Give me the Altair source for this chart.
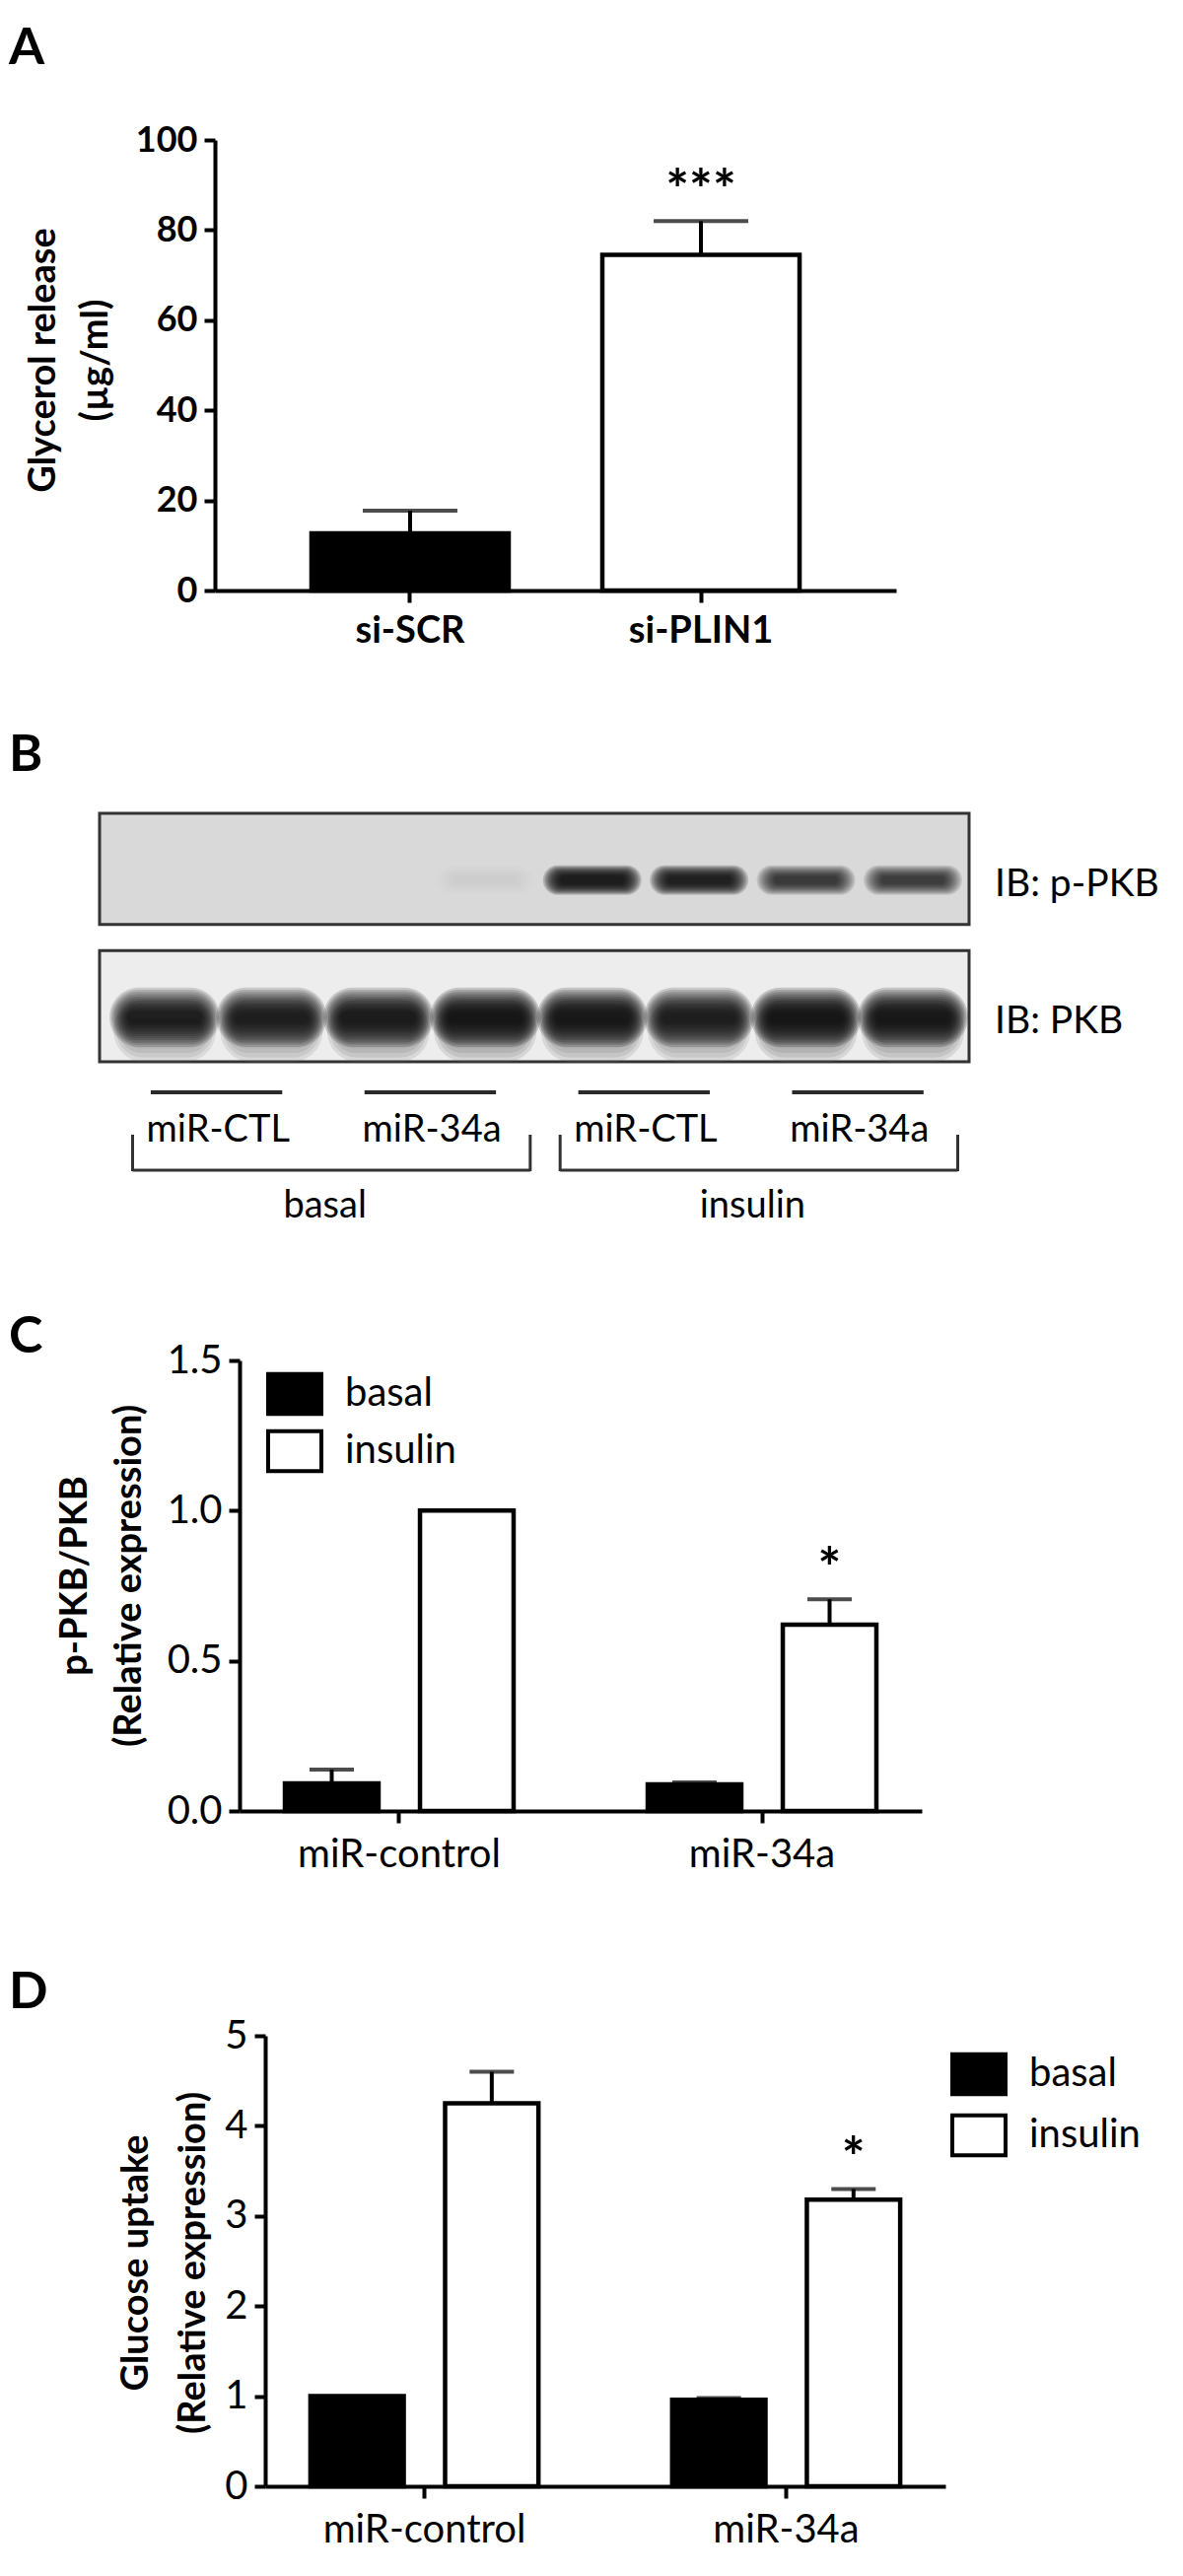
import altair as alt
import pandas as pd

FONT = "Lato"
BLACK = "black"

# ---------------- data ----------------
# Panel A
a_samples = ["si-SCR", "si-PLIN1"]
a_mean = [12.7, 74.5]
a_upper = [17.7, 82.0]
a_sig = ["", "***"]

# Panel B (western blot)
lanes = [1, 2, 3, 4, 5, 6, 7, 8]
strips = ["IB: p-PKB", "IB: PKB"]
ppkb_intensity = [0.0, 0.0, 0.0, 0.02, 1.0, 0.92, 0.6, 0.58]
pkb_intensity = [0.8, 0.88, 0.92, 1.0, 0.97, 0.88, 1.0, 0.97]
pair_first = [1, 3, 5, 7]
pair_last = [2, 4, 6, 8]
pair_labels = ["miR-CTL", "miR-34a", "miR-CTL", "miR-34a"]
group_first = [1, 5]
group_last = [4, 8]
group_labels = ["basal", "insulin"]

# Panels C and D
groups = ["miR-control", "miR-34a"]
conds = ["basal", "insulin"]
c_mean = [0.092, 1.0, 0.089, 0.62]
c_upper = [0.138, 1.0, 0.095, 0.705]
c_sig = ["", "", "", "*"]
d_mean = [1.0, 4.25, 0.96, 3.18]
d_upper = [1.0, 4.6, 0.98, 3.30]
d_sig = ["", "", "", "*"]

# ---------------- layout / style ----------------
W = 882
H = 457
HB = 325
RECT_SYMBOL = "M-1,-0.75H1V0.75H-1Z"


def axis_style(**kw):
    base = dict(domainColor=BLACK, domainWidth=4, tickColor=BLACK, tickWidth=4,
                tickSize=11, grid=False, labelColor=BLACK, labelFont=FONT,
                titleFont=FONT, titleColor=BLACK, labelLimit=0)
    base.update(kw)
    return alt.Axis(**base)


def letter(ch, y):
    return alt.Chart(pd.DataFrame({"t": [ch]})).mark_text(
        font=FONT, fontSize=52, fontWeight="bold", align="left", baseline="top",
        color=BLACK).encode(text="t:N", x=alt.value(-92), y=alt.value(y))


def star_text(base, x, xo=None):
    enc = dict(x=x, y="sig_y:Q", text="sig:N")
    if xo is not None:
        enc["xOffset"] = xo
    return base.transform_filter("datum.sig != ''").mark_text(
        font=FONT, fontSize=56, fontWeight="bold", baseline="middle", color=BLACK,
        dy=14).encode(**enc)


# ---------------- Panel A ----------------
dfA = pd.DataFrame({"sample": a_samples, "mean": a_mean, "upper": a_upper, "sig": a_sig})
dfA["sig_y"] = dfA["upper"] + 9.5

xA = alt.X("sample:N", sort=a_samples, title=None,
           scale=alt.Scale(range=[117, 808], paddingInner=0.322, paddingOuter=0.332),
           axis=axis_style(labelAngle=0, labelFontSize=38, labelFontWeight="bold",
                           labelPadding=10, tickSize=12))
yA = alt.Y("mean:Q", scale=alt.Scale(domain=[0, 100], nice=False),
           axis=axis_style(values=[0, 20, 40, 60, 80, 100], offset=-117,
                           labelFontSize=36, labelFontWeight="bold", labelPadding=7,
                           title=["Glycerol release", "(µg/ml)"], titleFontSize=38,
                           titleFontWeight="bold", titleAngle=270, titleX=-174,
                           titleY=223, titleAlign="center", titleBaseline="middle",
                           titleLineHeight=53))
baseA = alt.Chart(dfA)
xAs = alt.X("sample:N", sort=a_samples)
barsA = baseA.mark_bar(stroke=BLACK, strokeWidth=4.5).encode(
    x=xA, y=yA,
    fill=alt.Fill("sample:N", sort=a_samples,
                  scale=alt.Scale(domain=a_samples, range=["black", "white"]), legend=None))
errA = baseA.mark_rule(color=BLACK, strokeWidth=4).encode(x=xAs, y="mean:Q", y2="upper:Q")
capA = baseA.mark_tick(orient="horizontal", size=96, thickness=4, color=BLACK).encode(
    x=xAs, y="upper:Q")
sigA = star_text(baseA, xAs)
panelA = alt.layer(barsA, errA, capA, sigA, letter("A", -118)).properties(width=W, height=H)


# ---------------- Panel B ----------------
def pill(r):
    a = 1 - r
    return (f"M{-a:.3f},{-r:.3f}L{a:.3f},{-r:.3f}A{r:.3f},{r:.3f} 0 0 1 {a:.3f},{r:.3f}"
            f"L{-a:.3f},{r:.3f}A{r:.3f},{r:.3f} 0 0 1 {-a:.3f},{-r:.3f}Z")


dfStrip = pd.DataFrame({"strip": strips})
dfBand = pd.DataFrame({"lane": lanes * 2,
                       "strip": [strips[0]] * len(lanes) + [strips[1]] * len(lanes),
                       "intensity": ppkb_intensity + pkb_intensity})
dfPairs = pd.DataFrame({"first": pair_first, "last": pair_last, "label": pair_labels})
dfGroups = pd.DataFrame({"first": group_first, "last": group_last, "label": group_labels})
dfGroups["mid"] = (dfGroups["first"] + dfGroups["last"]) // 2

xL = alt.X("lane:O", title=None, axis=None,
           scale=alt.Scale(type="band", range=[11.8, 879.2], paddingInner=0, paddingOuter=0))
yS = alt.Y("strip:N", sort=strips, title=None, axis=None,
           scale=alt.Scale(range=[-2, 250], paddingInner=0.19, paddingOuter=0))
opac = alt.Opacity("intensity:Q", scale=alt.Scale(domain=[0, 1], range=[0, 0.18]), legend=None)

boxes = alt.Chart(dfStrip).mark_rect(stroke="#333333", strokeWidth=3).encode(
    y=yS,
    fill=alt.Fill("strip:N", sort=strips,
                  scale=alt.Scale(domain=strips, range=["#d9d9d9", "#ededed"]), legend=None))

band_layers = []
# (strip, outer width, inner width, outer height, inner height, band position, colour, layers)
band_geom = [
    (strips[0], 100, 64, 30, 8, 0.6, "#0a0a0a", 12),
    (strips[1], 104, 80, 64, 26, 0.72, "#707070", 5),
    (strips[1], 112, 76, 60, 12, 0.6, "#0a0a0a", 12),
]
for s, w_out, w_in, h_out, h_in, bp, col, nl in band_geom:
    for j in range(nl):
        t = j / (nl - 1)
        w = w_out + (w_in - w_out) * t
        h = h_out + (h_in - h_out) * t
        band_layers.append(
            alt.Chart(dfBand).transform_filter(alt.datum.strip == s).mark_point(
                shape=pill(h / w), size=w * w, filled=True, color=col, strokeWidth=0
            ).encode(x=xL, y=alt.Y("strip:N", sort=strips, bandPosition=bp), opacity=opac))

pair_lines = alt.Chart(dfPairs).mark_rule(color="#2a2a2a", strokeWidth=4).encode(
    x=alt.X("first:O", bandPosition=0.37), x2=alt.X2("last:O", bandPosition=0.6),
    y=alt.value(281))
pair_text = alt.Chart(dfPairs).mark_text(font=FONT, fontSize=38, baseline="middle",
                                         color=BLACK).encode(
    x=alt.X("first:O", bandPosition=1.0), y=alt.value(320), text="label:N")
br_left = alt.Chart(dfGroups).mark_rule(color="#333333", strokeWidth=3).encode(
    x=alt.X("first:O", bandPosition=0.2), y=alt.value(324), y2=alt.value(361))
br_right = alt.Chart(dfGroups).mark_rule(color="#333333", strokeWidth=3).encode(
    x=alt.X("last:O", bandPosition=0.92), y=alt.value(324), y2=alt.value(361))
br_bottom = alt.Chart(dfGroups).mark_rule(color="#333333", strokeWidth=3).encode(
    x=alt.X("first:O", bandPosition=0.2), x2=alt.X2("last:O", bandPosition=0.92),
    y=alt.value(360))
group_text = alt.Chart(dfGroups).mark_text(font=FONT, fontSize=38, baseline="middle",
                                           color=BLACK).encode(
    x=alt.X("mid:O", bandPosition=1.0), y=alt.value(397), text="label:N")
ib_text = alt.Chart(dfStrip).mark_text(font=FONT, fontSize=39, align="left",
                                       baseline="middle", color=BLACK).encode(
    x=alt.value(908), y=alt.Y("strip:N", sort=strips, bandPosition=0.64), text="strip:N")

panelB = alt.layer(boxes, *band_layers, pair_lines, pair_text, br_left, br_right, br_bottom,
                   group_text, ib_text, letter("B", -86)).properties(width=W, height=HB)


# ---------------- Panels C and D ----------------
def grouped_panel(mean, upper, sig, ymax, yvals, yfmt, title, x0, x1, titleX, titleY,
                  lineH, legendX, legendY, rowPad, ch, ch_y):
    df = pd.DataFrame({"group": [g for g in groups for _ in conds], "cond": conds * len(groups),
                       "mean": mean, "upper": upper, "sig": sig})
    df["sig_y"] = df["upper"] + 0.095 * ymax
    x = alt.X("group:N", sort=groups, title=None,
              scale=alt.Scale(range=[x0, x1], paddingInner=0.185, paddingOuter=0.0327),
              axis=axis_style(labelAngle=0, labelFontSize=40, labelPadding=12, tickSize=12))
    xo = alt.XOffset("cond:N", sort=conds,
                     scale=alt.Scale(paddingInner=0.307, paddingOuter=0.248))
    y = alt.Y("mean:Q", scale=alt.Scale(domain=[0, ymax], nice=False),
              axis=axis_style(values=yvals, format=yfmt, offset=-x0, labelFontSize=40,
                              labelPadding=7, title=title, titleFontSize=38,
                              titleFontWeight="bold", titleAngle=270, titleX=titleX,
                              titleY=titleY, titleAlign="center", titleBaseline="middle",
                              titleLineHeight=lineH))
    base = alt.Chart(df)
    xs = alt.X("group:N", sort=groups)
    xos = alt.XOffset("cond:N", sort=conds)
    bars = base.mark_bar(stroke=BLACK, strokeWidth=4.5).encode(
        x=x, xOffset=xo, y=y,
        fill=alt.Fill("cond:N", sort=conds,
                      scale=alt.Scale(domain=conds, range=["black", "white"]),
                      legend=alt.Legend(title=None, orient="none", legendX=legendX,
                                        legendY=legendY, symbolType=RECT_SYMBOL,
                                        symbolSize=2916, symbolStrokeColor=BLACK,
                                        symbolStrokeWidth=4, labelFont=FONT,
                                        labelFontSize=40, labelColor=BLACK, labelOffset=22,
                                        rowPadding=rowPad, padding=0)))
    witherr = base.transform_filter("datum.upper > datum.mean")
    err = witherr.mark_rule(color=BLACK, strokeWidth=4).encode(
        x=xs, xOffset=xos, y="mean:Q", y2="upper:Q")
    cap = witherr.mark_tick(orient="horizontal", size=45, thickness=4, color=BLACK).encode(
        x=xs, xOffset=xos, y="upper:Q")
    star = star_text(base, xs, xos)
    return alt.layer(bars, err, cap, star, letter(ch, ch_y)).properties(width=W, height=H)


panelC = grouped_panel(c_mean, c_upper, c_sig, 1.5, [0, 0.5, 1.0, 1.5], ".1f",
                       ["p-PKB/PKB", "(Relative expression)"], 142, 834, -167, 218, 55,
                       169, 5, 0, "C", -49)
panelD = grouped_panel(d_mean, d_upper, d_sig, 5, [0, 1, 2, 3, 4, 5], "d",
                       ["Glucose uptake", "(Relative expression)"], 168, 858, -131, 230, 58,
                       863, 10, 4, "D", -69)

chart = alt.vconcat(panelA, panelB, panelC, panelD, spacing=228, bounds="flush").resolve_scale(
    x="independent", y="independent", fill="independent", opacity="independent",
    xOffset="independent").resolve_legend(fill="independent").properties(
    padding={"left": 0, "top": 14, "right": 0, "bottom": 0}, background="white"
).configure_view(stroke="transparent")

chart.save("out.html", embed_options={"renderer": "svg", "actions": False})
